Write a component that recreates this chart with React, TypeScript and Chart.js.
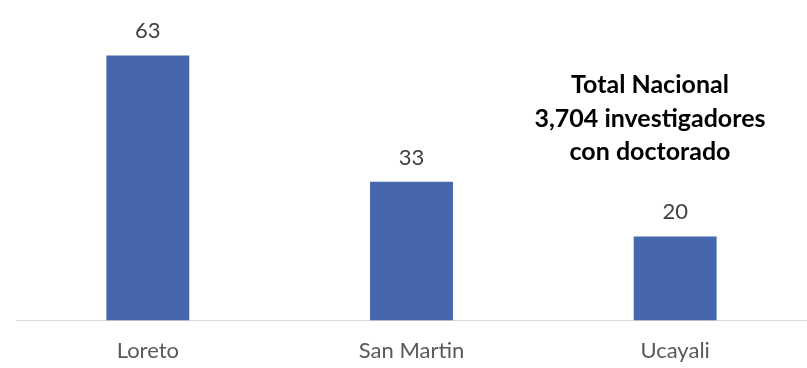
import React, { useEffect, useRef } from "react";
import { Chart, registerables } from "chart.js";

Chart.register(...registerables);

const categories = ["Loreto", "San Martin", "Ucayali"];
const values = [63, 33, 20];
const noteLines = ["Total Nacional", "3,704 investigadores", "con doctorado"];

const FONT = "Lato, 'Open Sans', sans-serif";

const valueLabelPlugin = {
  id: "valueLabels",
  afterDatasetsDraw(chart: any) {
    const ctx = chart.ctx;
    const meta = chart.getDatasetMeta(0);
    ctx.save();
    ctx.font = `22px ${FONT}`;
    ctx.fillStyle = "#404040";
    ctx.textAlign = "center";
    ctx.textBaseline = "alphabetic";
    meta.data.forEach((bar: any, i: number) => {
      ctx.fillText(String(values[i]), bar.x, bar.y - 17);
    });
    ctx.restore();
  },
};

const notePlugin = {
  id: "note",
  afterDraw(chart: any) {
    const ctx = chart.ctx;
    ctx.save();
    ctx.font = `bold 25px ${FONT}`;
    ctx.fillStyle = "#000000";
    ctx.textAlign = "center";
    ctx.textBaseline = "alphabetic";
    const baselines = [93, 127, 160];
    noteLines.forEach((t, i) => ctx.fillText(t, 650, baselines[i]));
    ctx.restore();
  },
};

export default function App() {
  const ref = useRef<HTMLCanvasElement>(null);
  useEffect(() => {
    if (!ref.current) return;
    const chart = new Chart(ref.current, {
      type: "bar",
      data: {
        labels: categories,
        datasets: [
          {
            data: values,
            backgroundColor: "#4667ae",
            borderWidth: 0,
            barPercentage: 1,
            categoryPercentage: 0.3144,
          },
        ],
      },
      options: {
        responsive: false,
        animation: false,
        layout: { padding: { top: 26, left: 16, right: -1, bottom: -13 } },
        plugins: { legend: { display: false }, tooltip: { enabled: false } },
        scales: {
          x: {
            grid: { display: false, drawTicks: false },
            border: { display: true, color: "#d9d9d9", width: 1 },
            ticks: {
              color: "#595959",
              font: { family: FONT, size: 22 },
              padding: 17,
            },
          },
          y: {
            display: false,
            min: 0,
            max: 70,
          },
        },
      },
      plugins: [valueLabelPlugin, notePlugin],
    });
    return () => chart.destroy();
  }, []);
  return (
    <div style={{ position: "fixed", left: 0, top: 0, width: 807, height: 368, background: "#fff" }}>
      <canvas ref={ref} width={807} height={368} />
    </div>
  );
}
